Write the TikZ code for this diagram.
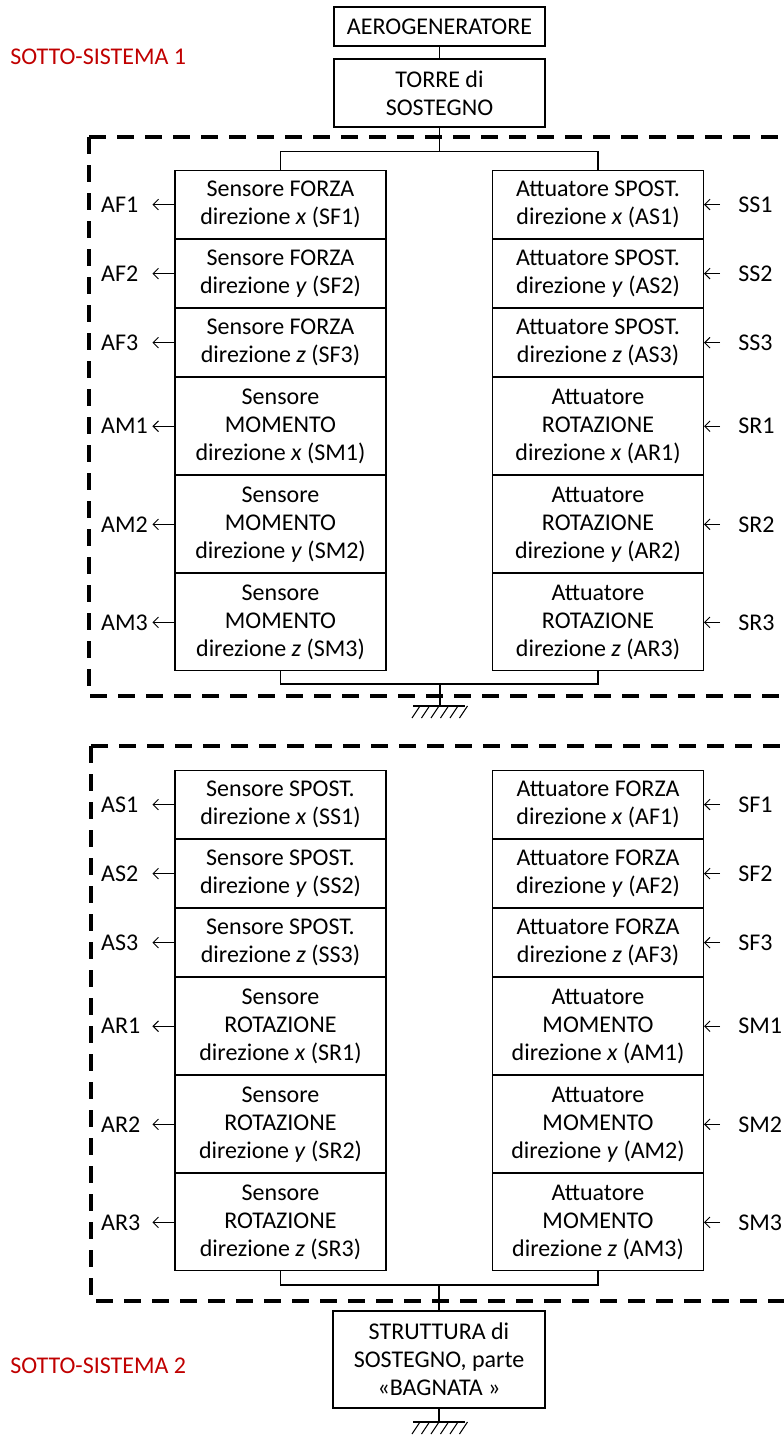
\documentclass[tikz,border=0pt]{standalone}
\usepackage{fontspec}
\setmainfont{Carlito}
\usepackage{tikz}
\usetikzlibrary{arrows.meta,positioning}

\definecolor{sysred}{RGB}{192,0,0}

\begin{document}
\begin{tikzpicture}[
  x=0.75pt, y=-0.75pt,
  font=\fontsize{18}{21}\selectfont,
  box/.style={draw, line width=0.8pt, minimum width=158.25pt, inner sep=0pt, align=center},
  twoline/.style={box, minimum height=51pt},
  threeline/.style={box, minimum height=72.75pt},
  lbl/.style={text width=38.25pt, align=left, inner sep=0pt},
  rlbl/.style={inner xsep=13.5pt, inner ysep=0pt},
  sysbox/.style={line width=2.4pt, dash pattern=on 12.75pt off 8.25pt},
  sysname/.style={text=sysred, anchor=west, inner sep=0pt},
  wire/.style={line width=0.8pt},
  arr/.style={-{Straight Barb[length=4pt, width=8pt]}, line width=0.7pt}
]
\useasboundingbox (0,0) rectangle (784,1436);

% sotto-sistema 1
\node[sysname] (name1) at (10,57) {SOTTO-SISTEMA 1};
\draw[sysbox] (89,137) -- (800,137);
\draw[sysbox] (89,137) -- (89,696) -- (800,696);

\node[box, minimum height=29.25pt] (aero) at (439.5,26.5) {AEROGENERATORE};
\node[twoline] (torre) at (439.5,93) {TORRE di\\SOSTEGNO};

\node[twoline, anchor=north] (sf1) at (280.5,170) {Sensore FORZA\\direzione \textit{x} (SF1)};
\node[twoline, below=0pt of sf1] (sf2) {Sensore FORZA\\direzione \textit{y} (SF2)};
\node[twoline, below=0pt of sf2] (sf3) {Sensore FORZA\\direzione \textit{z} (SF3)};
\node[threeline, below=0pt of sf3] (sm1) {Sensore\\MOMENTO\\direzione \textit{x} (SM1)};
\node[threeline, below=0pt of sm1] (sm2) {Sensore\\MOMENTO\\direzione \textit{y} (SM2)};
\node[threeline, below=0pt of sm2] (sm3) {Sensore\\MOMENTO\\direzione \textit{z} (SM3)};

\node[twoline, anchor=north] (as1) at (598,170) {Attuatore SPOST.\\direzione \textit{x} (AS1)};
\node[twoline, below=0pt of as1] (as2) {Attuatore SPOST.\\direzione \textit{y} (AS2)};
\node[twoline, below=0pt of as2] (as3) {Attuatore SPOST.\\direzione \textit{z} (AS3)};
\node[threeline, below=0pt of as3] (ar1) {Attuatore\\ROTAZIONE\\direzione \textit{x} (AR1)};
\node[threeline, below=0pt of ar1] (ar2) {Attuatore\\ROTAZIONE\\direzione \textit{y} (AR2)};
\node[threeline, below=0pt of ar2] (ar3) {Attuatore\\ROTAZIONE\\direzione \textit{z} (AR3)};

\node[lbl, left=16.5pt of sf1] (osf1) {AF1};
\node[lbl, left=16.5pt of sf2] (osf2) {AF2};
\node[lbl, left=16.5pt of sf3] (osf3) {AF3};
\node[lbl, left=16.5pt of sm1] (osm1) {AM1};
\node[lbl, left=16.5pt of sm2] (osm2) {AM2};
\node[lbl, left=16.5pt of sm3] (osm3) {AM3};
\node[rlbl, right=12pt of as1] (ias1) {SS1};
\node[rlbl, right=12pt of as2] (ias2) {SS2};
\node[rlbl, right=12pt of as3] (ias3) {SS3};
\node[rlbl, right=12pt of ar1] (iar1) {SR1};
\node[rlbl, right=12pt of ar2] (iar2) {SR2};
\node[rlbl, right=12pt of ar3] (iar3) {SR3};

\foreach \b in {sf1,sf2,sf3,sm1,sm2,sm3}
  \draw[arr] (\b.west) -- (o\b.east);
\foreach \b in {as1,as2,as3,ar1,ar2,ar3}
  \draw[arr] (i\b.west) -- (\b.east);

\draw[wire] (aero) -- (torre);
\draw[wire] (torre.south) -- ++(0,24) -| (sf1.north);
\draw[wire] (torre.south) -- ++(0,24) -| (as1.north);

\coordinate (bar1) at (440,684);
\coordinate (gnd1) at (440,706);
\draw[wire] (sm3.south) |- (bar1);
\draw[wire] (ar3.south) |- (bar1);
\draw[wire] (bar1) -- (gnd1);
\draw[wire] (gnd1) ++(-27,0) -- ++(52,0);
\foreach \i in {0,...,5}
  \draw[wire] (gnd1) ++(-20+9.5*\i,0) -- ++(-8,12);

% sotto-sistema 2
\node[sysname] (name2) at (10,1366) {SOTTO-SISTEMA 2};
\draw[sysbox] (91,746) -- (800,746);
\draw[sysbox] (91,746) -- (91,1301) -- (800,1301);

\node[twoline, anchor=north] (ss1) at (280.5,770) {Sensore SPOST.\\direzione \textit{x} (SS1)};
\node[twoline, below=0pt of ss1] (ss2) {Sensore SPOST.\\direzione \textit{y} (SS2)};
\node[twoline, below=0pt of ss2] (ss3) {Sensore SPOST.\\direzione \textit{z} (SS3)};
\node[threeline, below=0pt of ss3] (sr1) {Sensore\\ROTAZIONE\\direzione \textit{x} (SR1)};
\node[threeline, below=0pt of sr1] (sr2) {Sensore\\ROTAZIONE\\direzione \textit{y} (SR2)};
\node[threeline, below=0pt of sr2] (sr3) {Sensore\\ROTAZIONE\\direzione \textit{z} (SR3)};

\node[twoline, anchor=north] (af1) at (598,770) {Attuatore FORZA\\direzione \textit{x} (AF1)};
\node[twoline, below=0pt of af1] (af2) {Attuatore FORZA\\direzione \textit{y} (AF2)};
\node[twoline, below=0pt of af2] (af3) {Attuatore FORZA\\direzione \textit{z} (AF3)};
\node[threeline, below=0pt of af3] (am1) {Attuatore\\MOMENTO\\direzione \textit{x} (AM1)};
\node[threeline, below=0pt of am1] (am2) {Attuatore\\MOMENTO\\direzione \textit{y} (AM2)};
\node[threeline, below=0pt of am2] (am3) {Attuatore\\MOMENTO\\direzione \textit{z} (AM3)};

\node[lbl, left=16.5pt of ss1] (oss1) {AS1};
\node[lbl, left=16.5pt of ss2] (oss2) {AS2};
\node[lbl, left=16.5pt of ss3] (oss3) {AS3};
\node[lbl, left=16.5pt of sr1] (osr1) {AR1};
\node[lbl, left=16.5pt of sr2] (osr2) {AR2};
\node[lbl, left=16.5pt of sr3] (osr3) {AR3};
\node[rlbl, right=12pt of af1] (iaf1) {SF1};
\node[rlbl, right=12pt of af2] (iaf2) {SF2};
\node[rlbl, right=12pt of af3] (iaf3) {SF3};
\node[rlbl, right=12pt of am1] (iam1) {SM1};
\node[rlbl, right=12pt of am2] (iam2) {SM2};
\node[rlbl, right=12pt of am3] (iam3) {SM3};

\foreach \b in {ss1,ss2,ss3,sr1,sr2,sr3}
  \draw[arr] (\b.west) -- (o\b.east);
\foreach \b in {af1,af2,af3,am1,am2,am3}
  \draw[arr] (i\b.west) -- (\b.east);

\node[threeline, minimum width=159pt] (strutt) at (439,1359.5) {STRUTTURA di\\SOSTEGNO, parte\\«BAGNATA »};

\coordinate (bar2) at (439,1285);
\coordinate (gnd2) at (439,1422);
\draw[wire] (sr3.south) |- (bar2);
\draw[wire] (am3.south) |- (bar2);
\draw[wire] (bar2) -- (strutt.north);
\draw[wire] (strutt.south) -- (gnd2);
\draw[wire] (gnd2) ++(-26,0) -- ++(52,0);
\foreach \i in {0,...,5}
  \draw[wire] (gnd2) ++(-19+9.5*\i,0) -- ++(-8,12);
\end{tikzpicture}
\end{document}
